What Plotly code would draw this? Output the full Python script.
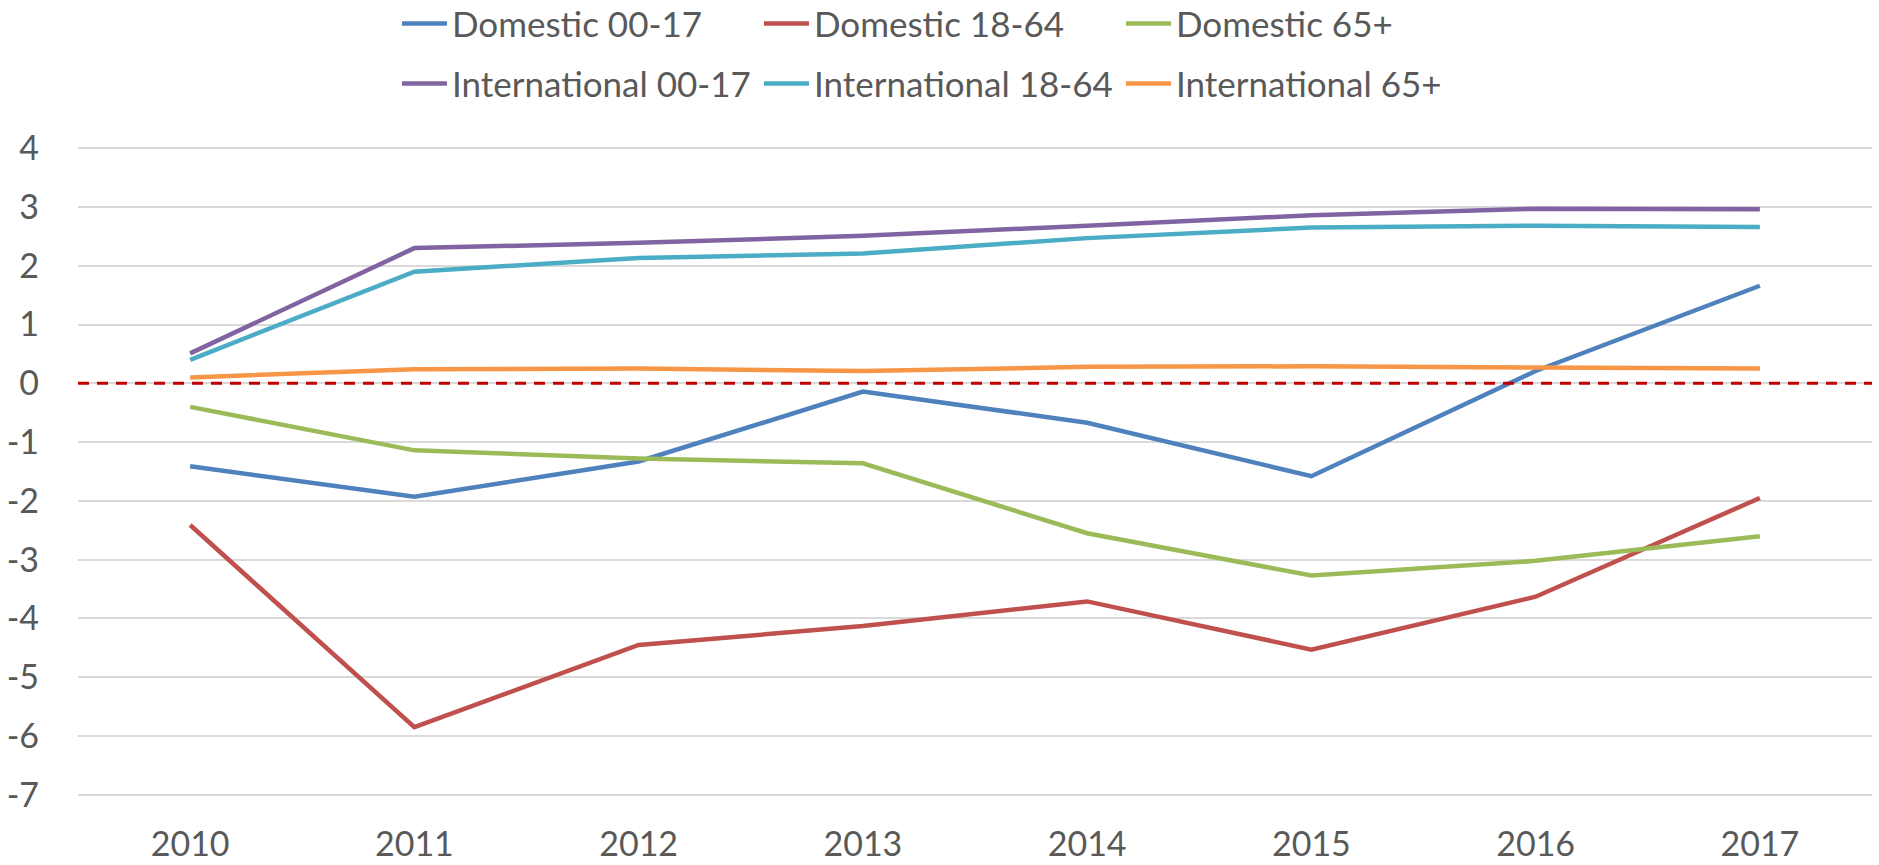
import plotly.graph_objects as go

years = ["2010", "2011", "2012", "2013", "2014", "2015", "2016", "2017"]

dom_00_17 = [-1.41, -1.93, -1.33, -0.14, -0.67, -1.58, 0.21, 1.66]
dom_18_64 = [-2.41, -5.85, -4.45, -4.13, -3.71, -4.53, -3.63, -1.95]
dom_65 = [-0.40, -1.14, -1.28, -1.36, -2.55, -3.27, -3.02, -2.60]
int_00_17 = [0.51, 2.30, 2.39, 2.51, 2.68, 2.86, 2.97, 2.96]
int_18_64 = [0.40, 1.90, 2.13, 2.21, 2.47, 2.65, 2.68, 2.66]
int_65 = [0.10, 0.24, 0.25, 0.21, 0.28, 0.29, 0.27, 0.25]

y_ticks = [4, 3, 2, 1, 0, -1, -2, -3, -4, -5, -6, -7]
y_tick_text = ["4", "3", "2", "1", "0", "-1", "-2", "-3", "-4", "-5", "-6", "-7"]

series = [
    ("Domestic 00-17", dom_00_17, "#4F81BD", "legend"),
    ("Domestic 18-64", dom_18_64, "#C0504D", "legend"),
    ("Domestic 65+", dom_65, "#9BBB59", "legend"),
    ("International 00-17", int_00_17, "#8064A2", "legend2"),
    ("International 18-64", int_18_64, "#4BACC6", "legend2"),
    ("International 65+", int_65, "#F79646", "legend2"),
]

fig = go.Figure()
for name, vals, color, leg in series:
    fig.add_trace(go.Scatter(x=years, y=vals, mode="lines", name=name, legend=leg,
                             line=dict(color=color, width=4.5)))

# red dashed zero line
fig.add_shape(type="line", xref="paper", yref="y", x0=0, x1=1, y0=0, y1=0,
              line=dict(color="#C00000", width=3, dash="11px,8px"))

legend_style = dict(orientation="h", xanchor="left", yanchor="middle",
                    entrywidth=302, entrywidthmode="pixels", itemwidth=45,
                    font=dict(family="Lato", size=35, color="#595959"),
                    bgcolor="rgba(0,0,0,0)")

fig.update_layout(
    width=1879, height=865,
    margin=dict(l=78, r=7, t=147, b=69, autoexpand=False),
    plot_bgcolor="white", paper_bgcolor="white",
    font=dict(family="Lato", size=34, color="#595959"),
    showlegend=True,
    legend=dict(x=0.1778, y=1.190, **legend_style),
    legend2=dict(x=0.1778, y=1.0975, **legend_style),
    xaxis=dict(type="category", range=[-0.5, 7.5], showgrid=False, showline=False,
               zeroline=False, ticks="", ticklabelstandoff=25),
    yaxis=dict(range=[-7.02, 4.02], tickvals=y_ticks, ticktext=y_tick_text,
               showgrid=True, gridcolor="#D9D9D9", gridwidth=1.5,
               zeroline=False, showline=False, ticks="", ticklabelstandoff=38),
)

fig.write_html("out.html", config={"displayModeBar": False},
               post_script="document.body.style.margin='0';")
